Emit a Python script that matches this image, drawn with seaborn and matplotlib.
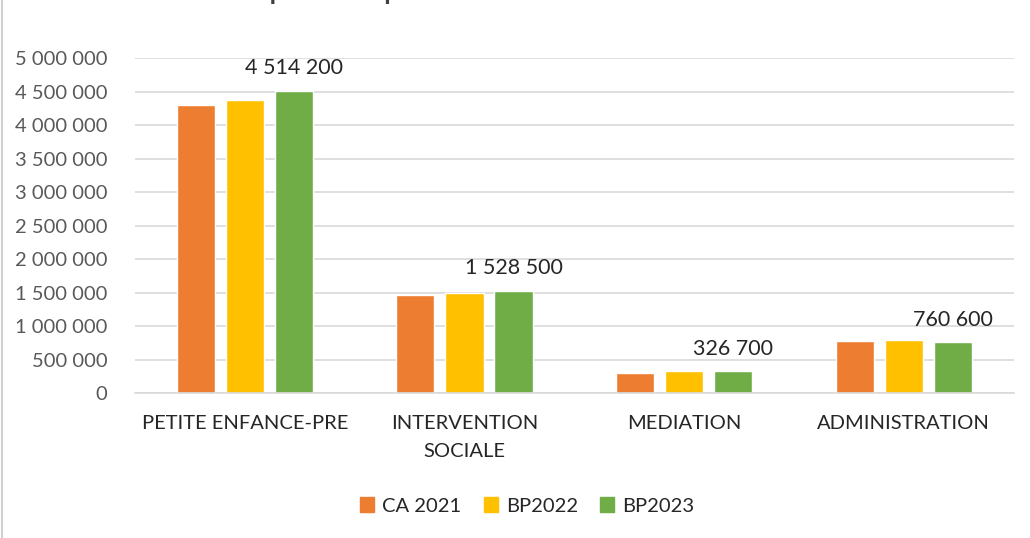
import pandas as pd
import numpy as np
import matplotlib
matplotlib.use("Agg")
import matplotlib.pyplot as plt
import seaborn as sns
from matplotlib.lines import Line2D

# data
secteurs = ["PETITE ENFANCE-PRE", "INTERVENTION\nSOCIALE", "MEDIATION", "ADMINISTRATION"]
series = ["CA 2021", "BP2022", "BP2023"]
ca_2021 = [4300000, 1460000, 295000, 770000]
bp_2022 = [4370000, 1500000, 335000, 790000]
bp_2023 = [4514200, 1528500, 326700, 760600]
couleurs = ["#ED7D31", "#FFC000", "#70AD47"]
y_ticks = [0, 500000, 1000000, 1500000, 2000000, 2500000, 3000000, 3500000, 4000000, 4500000, 5000000]
titre = "Evolution des dépenses par secteur d'activité"


def fmt_fr(v):
    # french style thousands separator
    return f"{v:,.0f}".replace(",", " ")


df = pd.DataFrame({
    "secteur": secteurs * 3,
    "serie": [s for s in series for _ in secteurs],
    "montant": ca_2021 + bp_2022 + bp_2023,
})

sns.set_style("white")
plt.rcParams["font.family"] = ["Lato", "DejaVu Sans"]

fig = plt.figure(figsize=(10.30, 5.38), dpi=100)
ax = fig.add_axes([0.131, 0.2695, 0.853, 0.6225])

sns.barplot(data=df, x="secteur", y="montant", hue="serie", palette=couleurs,
            width=0.67, gap=0.22, ax=ax, legend=False, saturation=1, errorbar=None)

ax.set_ylim(0, 5000000)
ax.set_xlim(-0.5, 3.5)
ax.set_yticks(y_ticks)
ax.set_yticklabels([fmt_fr(v) for v in y_ticks], fontsize=14.5, color="#595959")
ax.tick_params(axis="x", labelsize=14.5, labelcolor="#262626", length=0, pad=16)
ax.tick_params(axis="y", length=0, pad=20)
for lab in ax.get_xticklabels():
    lab.set_linespacing(1.75)
ax.set_xlabel("")
ax.set_ylabel("")
ax.yaxis.grid(True, color="#d9d9d9", linewidth=1.2)
ax.set_axisbelow(True)
for s in ["top", "right", "left"]:
    ax.spines[s].set_visible(False)
ax.spines["bottom"].set_color("#d9d9d9")
ax.spines["bottom"].set_linewidth(1.2)

# only the last series gets value labels
ax.bar_label(ax.containers[2], labels=[fmt_fr(v) for v in bp_2023],
             padding=9, fontsize=15.5, color="#262626")

handles = [plt.Rectangle((0, 0), 1, 1, color=c) for c in couleurs]
fig.legend(handles, series, loc="center", bbox_to_anchor=(0.512, 1 - 506 / 538),
           ncol=3, frameon=False, fontsize=14.5, handlelength=0.7, handleheight=0.7,
           handletextpad=0.4, columnspacing=1.1, labelcolor="#262626")

# title cut off by the top of the image, as in the reference
fig.text(0.015, 1 + 1.5 / 538, titre, fontsize=25, color="#404040", va="baseline", ha="left")

# left frame border
fig.add_artist(Line2D([0.002, 0.002], [0, 1], color="#d0d0d0", linewidth=1.5))

fig.savefig("out.png", dpi=100)
